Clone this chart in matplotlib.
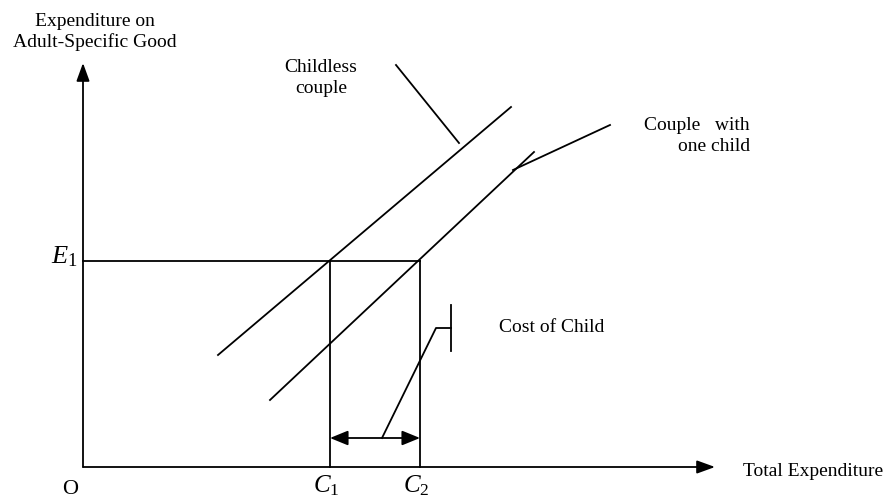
import matplotlib
matplotlib.use("Agg")
import matplotlib.pyplot as plt

plt.rcParams['font.family'] = ['Liberation Serif', 'DejaVu Serif']
plt.rcParams['mathtext.fontset'] = 'custom'
plt.rcParams['mathtext.rm'] = 'Liberation Serif'
plt.rcParams['mathtext.it'] = 'Liberation Serif:italic'

# ---- diagram data (origin O at 0,0) ----
x_axis_end = 632
y_axis_end = 404
E1 = 206
C1 = 247
C2 = 337
cost_arrow_y = 29

childless_x = [135, 428]
childless_y = [112, 360]
couple_x = [187, 451]
couple_y = [67, 315]

childless_leader_x = [313, 376]
childless_leader_y = [402, 324]
couple_leader_x = [430, 527]
couple_leader_y = [297, 342]
cost_leader_x = [299, 353, 368]
cost_leader_y = [29, 139, 139]
cost_tick_x = [368, 368]
cost_tick_y = [162, 116]

fig = plt.figure(figsize=(8.87, 4.99), dpi=100)
ax = fig.add_axes([0, 0, 1, 1])
ax.set_xlim(-83, 804)
ax.set_ylim(-32, 467)
ax.axis('off')

lw = 1.3
k = 'black'
head = dict(arrowstyle='-|>,head_length=1.1,head_width=0.4', mutation_scale=10,
            color=k, lw=lw, shrinkA=0, shrinkB=0)

# axes with arrows
ax.annotate('', xy=(x_axis_end, 0), xytext=(0, 0), arrowprops=head)
ax.annotate('', xy=(0, y_axis_end), xytext=(0, 0), arrowprops=head)

# guide lines
ax.plot([0, C2], [E1, E1], color=k, lw=lw)
ax.plot([C1, C1], [0, E1], color=k, lw=lw)
ax.plot([C2, C2], [0, E1], color=k, lw=lw)

# budget lines
ax.plot(childless_x, childless_y, color=k, lw=lw)
ax.plot(couple_x, couple_y, color=k, lw=lw)

# leaders
ax.plot(childless_leader_x, childless_leader_y, color=k, lw=lw)
ax.plot(couple_leader_x, couple_leader_y, color=k, lw=lw)
ax.plot(cost_leader_x, cost_leader_y, color=k, lw=lw)
ax.plot(cost_tick_x, cost_tick_y, color=k, lw=lw)

# double arrow
dbl = dict(arrowstyle='<|-|>,head_length=1.1,head_width=0.45', mutation_scale=10,
           color=k, lw=lw, shrinkA=0, shrinkB=0)
ax.annotate('', xy=(C2, cost_arrow_y), xytext=(C1, cost_arrow_y), arrowprops=dbl)

fs = 14
ax.text(12, 435, 'Expenditure on\nAdult-Specific Good', ha='center', va='center',
        fontsize=fs, linespacing=1.25)
ax.text(238, 389, 'Childless\ncouple', ha='center', va='center', fontsize=fs,
        linespacing=1.25)
ax.text(667, 331, 'Couple   with\none child', ha='right', va='center', fontsize=fs,
        multialignment='right', linespacing=1.25)
ax.text(416, 140, 'Cost of Child', ha='left', va='center', fontsize=fs)
ax.text(660, -4, 'Total Expenditure', ha='left', va='center', fontsize=fs)
ax.text(-13, -22, 'O', ha='center', va='center', fontsize=16)

ax.text(-5, 204, r'$E_1$', ha='right', va='baseline', fontsize=19)
ax.text(C1 - 4, -25, r'$C_1$', ha='center', va='baseline', fontsize=18)
ax.text(C2 - 4, -25, r'$C_2$', ha='center', va='baseline', fontsize=18)

fig.savefig('out.png', dpi=100)
